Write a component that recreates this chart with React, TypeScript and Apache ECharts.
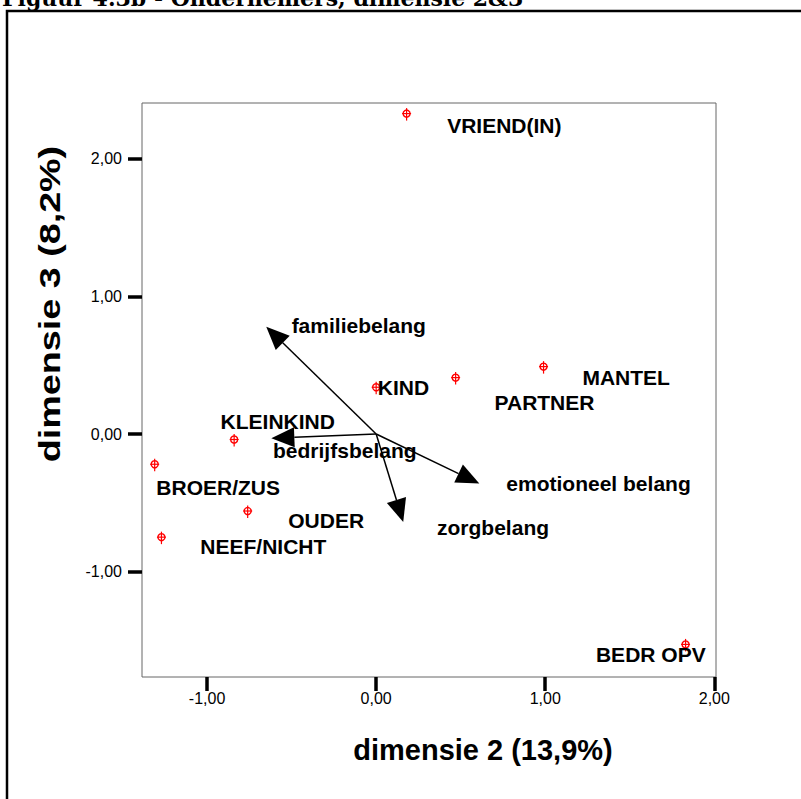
import React, { useEffect, useRef } from "react";
import * as echarts from "echarts";

// Category points (dimensie 2, dimensie 3)
const pointNames = ["VRIEND(IN)", "KIND", "MANTEL", "PARTNER", "KLEINKIND", "BROER/ZUS", "OUDER", "NEEF/NICHT", "BEDR OPV"];
const pointX = [0.18, 0.0, 0.99, 0.47, -0.84, -1.31, -0.76, -1.27, 1.83];
const pointY = [2.33, 0.34, 0.49, 0.41, -0.04, -0.22, -0.56, -0.75, -1.53];
// where each point label starts (left edge, vertical middle)
const pointLabelX = [0.42, 0.01, 1.22, 0.70, -0.92, -1.30, -0.52, -1.04, 1.30];
const pointLabelY = [2.24, 0.34, 0.41, 0.23, 0.09, -0.39, -0.63, -0.82, -1.60];

// Vector (arrow) tips
const vectorNames = ["familiebelang", "bedrijfsbelang", "emotioneel belang", "zorgbelang"];
const vectorX = [-0.65, -0.62, 0.61, 0.16];
const vectorY = [0.78, -0.03, -0.36, -0.64];
const vectorLabelX = [-0.50, -0.61, 0.77, 0.36];
const vectorLabelY = [0.79, -0.12, -0.36, -0.68];
const origin = [0, 0];

const xTicks = [-1, 0, 1, 2];
const yTicks = [-1, 0, 1, 2];

const fmt = (v: number) => v.toFixed(2).replace(".", ",");

export default function App() {
  const ref = useRef<HTMLDivElement>(null);
  useEffect(() => {
    if (!ref.current) return;
    const chart = echarts.init(ref.current, null, { renderer: "svg" });
    const labelData = [
      ...pointNames.map((n, i) => [pointLabelX[i], pointLabelY[i], i]),
      ...vectorNames.map((n, i) => [vectorLabelX[i], vectorLabelY[i], pointNames.length + i]),
    ];
    const allLabels = [...pointNames, ...vectorNames];
    const tickCommon = { show: true, length: 14, inside: false, lineStyle: { color: "#000", width: 3.5 } };
    chart.setOption({
      animation: false,
      backgroundColor: "#fff",
      grid: { show: true, left: 142, top: 103, width: 574, height: 574, borderColor: "#666", borderWidth: 1, backgroundColor: "transparent" },
      xAxis: {
        type: "value", min: -1.385, max: 2.01, splitNumber: 3,
        splitLine: { show: false }, axisLine: { show: false, onZero: false },
        axisTick: { ...tickCommon, customValues: xTicks },
        axisLabel: { customValues: xTicks, formatter: fmt, color: "#000", fontFamily: "Liberation Sans", fontSize: 16, margin: 13 },
      },
      yAxis: {
        type: "value", min: -1.767, max: 2.407, splitNumber: 4,
        splitLine: { show: false }, axisLine: { show: false, onZero: false },
        axisTick: { ...tickCommon, customValues: yTicks },
        axisLabel: { customValues: yTicks, formatter: fmt, color: "#000", fontFamily: "Liberation Sans", fontSize: 16, margin: 20 },
      },
      graphic: [
        { type: "rect", shape: { x: 7, y: 11, width: 900, height: 900 }, style: { fill: "none", stroke: "#000", lineWidth: 2.5 }, z: -10 },
        { type: "text", x: 2, y: 9, style: { text: "Figuur 4.3b - Ondernemers, dimensie 2&3", font: "bold 22px 'DejaVu Serif'", fill: "#000", align: "left", verticalAlign: "bottom" } },
        { type: "text", x: 483, y: 750, style: { text: "dimensie 2 (13,9%)", font: "bold 29px 'Liberation Sans'", fill: "#000", align: "center", verticalAlign: "middle" } },
        { type: "text", x: 50, y: 304, rotation: Math.PI / 2, scaleX: 1.3, style: { text: "dimensie 3 (8,2%)", font: "bold 29px 'Liberation Sans'", fill: "#000", align: "center", verticalAlign: "middle" } },
      ],
      series: [
        {
          type: "custom",
          data: vectorX.map((x, i) => [origin[0], origin[1], x, vectorY[i]]),
          renderItem: (params: any, api: any) => {
            const p0 = api.coord([api.value(0), api.value(1)]);
            const p1 = api.coord([api.value(2), api.value(3)]);
            const dx = p1[0] - p0[0], dy = p1[1] - p0[1];
            const len = Math.sqrt(dx * dx + dy * dy);
            const ux = dx / len, uy = dy / len;
            const L = 23, W = 10;
            const bx = p1[0] - ux * L, by = p1[1] - uy * L;
            return {
              type: "group",
              children: [
                { type: "line", shape: { x1: p0[0], y1: p0[1], x2: bx, y2: by }, style: { stroke: "#000", lineWidth: 1.5 } },
                { type: "polygon", shape: { points: [[p1[0], p1[1]], [bx - uy * W, by + ux * W], [bx + uy * W, by - ux * W]] }, style: { fill: "#000" } },
              ],
            };
          },
        },
        {
          type: "custom",
          data: pointX.map((x, i) => [x, pointY[i]]),
          renderItem: (params: any, api: any) => {
            const p = api.coord([api.value(0), api.value(1)]);
            return {
              type: "group",
              children: [
                { type: "circle", shape: { cx: p[0], cy: p[1], r: 3.5 }, style: { fill: "none", stroke: "#f00", lineWidth: 1.4 } },
                { type: "line", shape: { x1: p[0] - 4.5, y1: p[1], x2: p[0] + 4.5, y2: p[1] }, style: { stroke: "#f00", lineWidth: 1.2 } },
                { type: "line", shape: { x1: p[0], y1: p[1] - 5.5, x2: p[0], y2: p[1] + 7 }, style: { stroke: "#f00", lineWidth: 1.2 } },
              ],
            };
          },
        },
        {
          type: "custom",
          data: labelData,
          renderItem: (params: any, api: any) => {
            const p = api.coord([api.value(0), api.value(1)]);
            const idx = api.value(2);
            return {
              type: "text",
              x: p[0], y: p[1],
              style: { text: allLabels[idx], font: "bold 21px 'Liberation Sans'", fill: "#000", align: "left", verticalAlign: "middle" },
            };
          },
        },
      ],
    });
    return () => chart.dispose();
  }, []);
  return <div ref={ref} style={{ position: "fixed", left: 0, top: 0, width: 801, height: 799 }} />;
}
